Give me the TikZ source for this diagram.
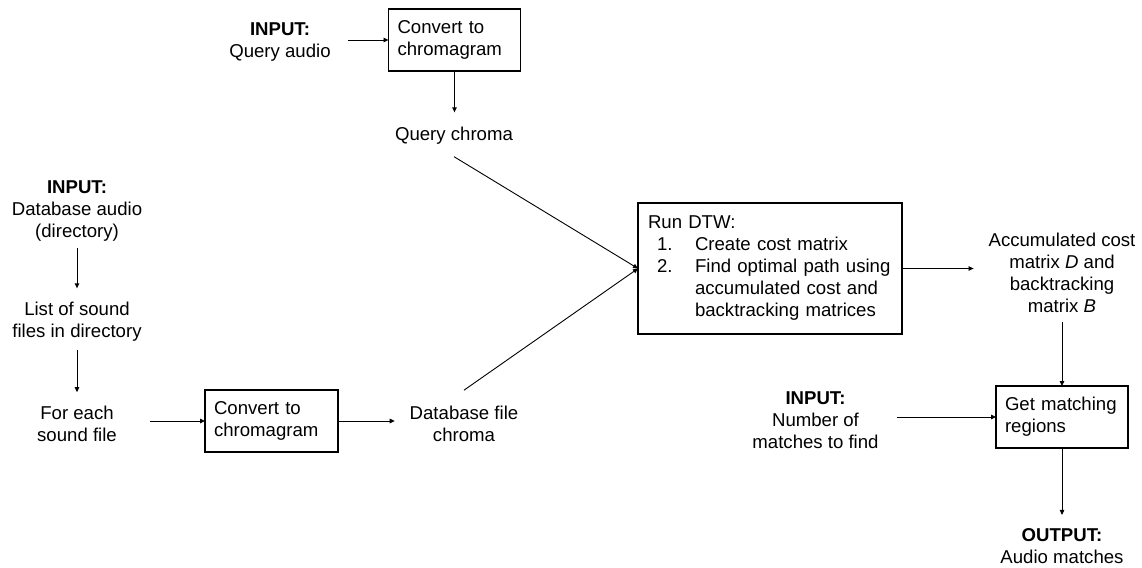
\documentclass[tikz,border=0pt]{standalone}
\usepackage{fontspec}
\setmainfont{Liberation Sans}
\usetikzlibrary{arrows.meta}
\begin{document}
\begin{tikzpicture}[x=1pt,y=-1pt,
  every node/.style={font=\fontsize{18.6}{22}\selectfont, inner sep=0pt, outer sep=0pt},
  lbl/.style={align=center},
  boxn/.style={draw, line width=1.2pt, align=left, inner xsep=9pt, anchor=center},
  arr/.style={line width=0.9pt, -{Triangle[length=5pt,width=4.5pt]}},
  ln/.style={line width=0.9pt, -{Triangle[length=5pt,width=4.5pt]}}]
\useasboundingbox (0,0) rectangle (1142,567);

% nodes
\node[lbl] (qa) at (280,42.5) {\textbf{INPUT:}\\Query audio};
\node[boxn, text width=114pt, minimum height=62pt] (conv1) at (454.5,40) {Convert to\\chromagram};
\node[lbl] (qc) at (454,136) {Query chroma};

\node[lbl] (da) at (77,211.5) {\textbf{INPUT:}\\Database audio\\(directory)};
\node[lbl] (lsf) at (77,322) {List of sound\\files in directory};
\node[lbl] (fe) at (77,424) {For each\\sound file};
\node[boxn, text width=115pt, minimum height=62pt] (conv2) at (271.5,421) {Convert to\\chromagram};
\node[lbl] (dfc) at (464,424) {Database file\\chroma};

\node[boxn, inner xsep=10pt, text width=244pt, minimum height=131pt] (dtw) at (770,268.5)
  {Run DTW:\\
   \hspace*{9pt}\makebox[38pt][l]{1.}Create cost matrix\\
   \hspace*{9pt}\makebox[38pt][l]{2.}Find optimal path using\\
   \hspace*{47pt}accumulated cost and\\
   \hspace*{47pt}backtracking matrices};

\node[lbl] (acc) at (1062,272.5) {Accumulated cost\\matrix \textit{D} and\\backtracking\\matrix \textit{B}};
\node[lbl] (nm) at (815.5,420) {\textbf{INPUT:}\\Number of\\matches to find};
\node[boxn, text width=114pt, minimum height=62pt] (gmr) at (1062,417) {Get matching\\regions};
\node[lbl] (out) at (1062,546.5) {\textbf{OUTPUT:}\\Audio matches};

% connectors
\draw[arr, shorten <=17pt] (qa.east |- conv1.west) -- (conv1.west);
\draw[arr, shorten >=15pt] (conv1.south) -- (conv1.south |- qc.north);
\draw[arr] ([yshift=-12pt]qc.south) -- (dtw.west);
\draw[arr] ([yshift=16pt]dfc.north) -- (dtw.west);

\draw[arr, shorten <=6pt, shorten >=14pt] (da.south) -- (lsf.north);
\draw[arr, shorten <=8pt, shorten >=14pt] (lsf.south) -- (fe.north);
\draw[arr, shorten <=33pt] (fe.east |- conv2.west) -- (conv2.west);
\draw[arr, shorten >=15pt] (conv2.east) -- (conv2.east -| dfc.west);

\draw[arr, shorten >=15pt] (dtw.east) -- (dtw.east -| acc.west);
\draw[arr, shorten <=10pt] (acc.south) -- (gmr.north);
\draw[arr, shorten <=18pt] (nm.east |- gmr.west) -- (gmr.west);
\draw[arr, shorten >=14pt] (gmr.south) -- (gmr.south |- out.north);
\end{tikzpicture}
\end{document}
